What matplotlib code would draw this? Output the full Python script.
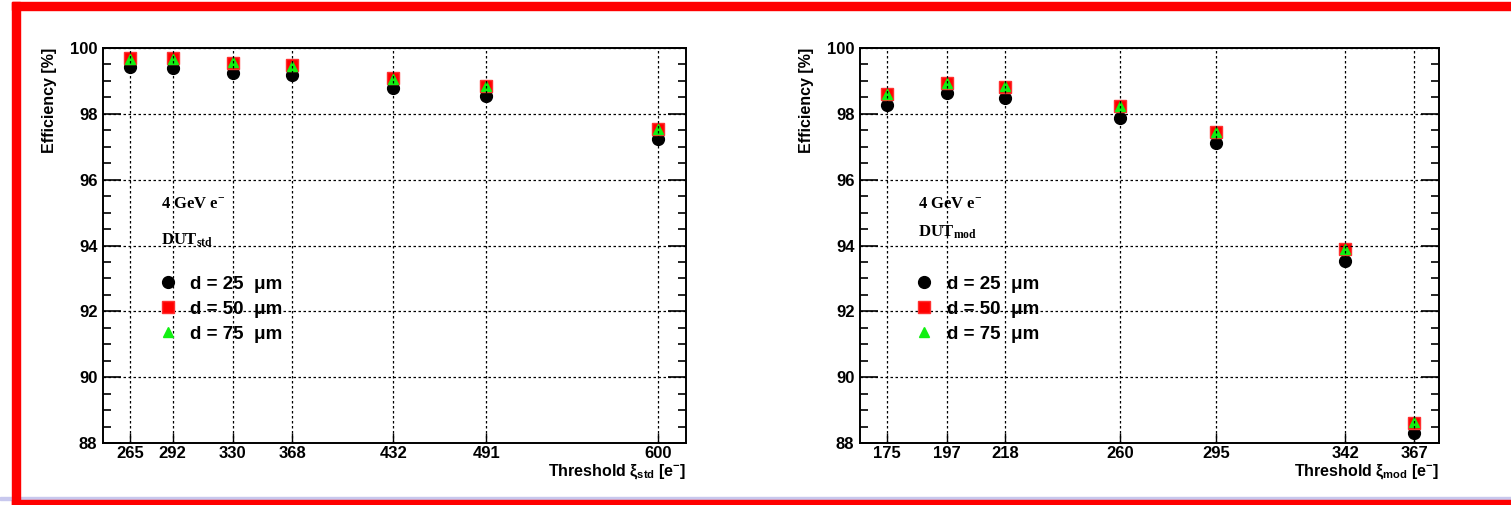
import matplotlib
matplotlib.use("Agg")
import matplotlib.pyplot as plt
from matplotlib.patches import Rectangle
from matplotlib.ticker import MultipleLocator, FixedLocator

# ---------------- data ----------------
thr_std = [265, 292, 330, 368, 432, 491, 600]
std_d25 = [99.41, 99.39, 99.25, 99.19, 98.77, 98.54, 97.23]
std_d50 = [99.70, 99.70, 99.55, 99.48, 99.08, 98.85, 97.54]
std_d75 = [99.68, 99.68, 99.56, 99.46, 99.07, 98.84, 97.55]

thr_mod = [175, 197, 218, 260, 295, 342, 367]
mod_d25 = [98.28, 98.64, 98.47, 97.87, 97.10, 93.53, 88.31]
mod_d50 = [98.60, 98.94, 98.82, 98.24, 97.44, 93.89, 88.61]
mod_d75 = [98.61, 98.95, 98.84, 98.25, 97.45, 93.90, 88.63]

series_labels = ["d = 25  \u03bcm", "d = 50  \u03bcm", "d = 75  \u03bcm"]
y_label = "Efficiency [%]"

plt.rcParams['mathtext.fontset'] = 'custom'
plt.rcParams['mathtext.rm'] = 'Liberation Sans:bold'
plt.rcParams['mathtext.it'] = 'Liberation Sans:bold'
plt.rcParams['mathtext.bf'] = 'Liberation Serif:bold'

W, H = 1511, 505
fig = plt.figure(figsize=(W / 100, H / 100), dpi=100)
fig.patch.set_facecolor('white')

def frac(x0, y0, x1, y1):
    return [x0 / W, 1 - y1 / H, (x1 - x0) / W, (y1 - y0) / H]

# frame decorations
fig.patches.append(Rectangle((0, 1 - 500 / H), 1, 3.5 / H, transform=fig.transFigure,
                             color='#c8c8ee', zorder=0))
fig.patches.append(Rectangle((12 / W, 1 - 10 / H), 1 - 12 / W, 8 / H, transform=fig.transFigure,
                             color='#ff0000', zorder=1))
fig.patches.append(Rectangle((12 / W, 0), 8 / W, 1 - 2 / H, transform=fig.transFigure,
                             color='#ff0000', zorder=1))
fig.patches.append(Rectangle((12 / W, 0), 1 - 12 / W, 5 / H, transform=fig.transFigure,
                             color='#ff0000', zorder=1))

SANS = 'Liberation Sans'
SERIF = 'Liberation Serif'

def panel(rect, thr, d25, d50, d75, xlim, xlab, dut_math, dut_y):
    ax = fig.add_axes(rect)
    ax.plot(thr, d25, linestyle='none', marker='o', color='black', markersize=8.5, label=series_labels[0], zorder=2)
    ax.plot(thr, d50, linestyle='none', marker='s', color='#ff0000', markeredgecolor='#ff3030',
            markersize=8.5, label=series_labels[1], zorder=2)
    ax.plot(thr, d75, linestyle='none', marker='^', color='#11f011', markeredgecolor='#11f011',
            markersize=7.5, label=series_labels[2], zorder=2)
    ax.set_xlim(*xlim)
    ax.set_ylim(88, 100)
    ax.xaxis.set_major_locator(FixedLocator(thr))
    ax.set_xticklabels([str(t) for t in thr])
    ax.yaxis.set_major_locator(MultipleLocator(2))
    ax.yaxis.set_minor_locator(MultipleLocator(0.5))
    ax.tick_params(axis='y', which='major', direction='in', length=13, width=1.2,
                   left=True, right=True, pad=4)
    ax.tick_params(axis='y', which='minor', direction='in', length=6, width=1.2,
                   left=True, right=True)
    ax.tick_params(axis='x', which='major', direction='in', length=7, width=1.0,
                   bottom=True, top=False, pad=2)
    for lab in ax.get_xticklabels() + ax.get_yticklabels():
        lab.set_fontfamily(SANS)
        lab.set_fontweight('bold')
        lab.set_fontsize(12)
    for s in ax.spines.values():
        s.set_linewidth(1.4)
    ax.set_axisbelow(False)
    ax.grid(True, which='major', color='black', linestyle=(0, (2, 2)), linewidth=0.9)
    ax.text(-0.092, 1.0, y_label, transform=ax.transAxes, rotation=90, ha='center', va='top',
            fontfamily=SANS, fontweight='bold', fontsize=11.5)
    ax.text(1.0, -0.072, xlab, transform=ax.transAxes, ha='right', va='center',
            fontfamily=SANS, fontweight='bold', fontsize=11.5)
    ax.text(0.0995, 0.6025, r"4 GeV e$^{\mathbf{-}}$", transform=ax.transAxes, ha='left', va='center',
            fontfamily=SERIF, fontweight='bold', fontsize=12)
    ax.text(0.0995, dut_y, dut_math, transform=ax.transAxes, ha='left', va='center',
            fontfamily=SERIF, fontweight='bold', fontsize=12)
    ax.legend(loc='upper left', bbox_to_anchor=(0.079, 0.448), frameon=False,
              prop={'family': SANS, 'weight': 'bold', 'size': 13.5},
              handlelength=1.0, handletextpad=0.68, labelspacing=0.42, borderpad=0.0)
    return ax

panel(frac(103, 48, 686, 443), thr_std, std_d25, std_d50, std_d75, (247.8, 617.8),
      r"Threshold $\xi_{\mathrm{std}}$ [e$^{-}$]", r"DUT$_{\mathbf{std}}$", 0.513)
panel(frac(860, 48, 1439, 443), thr_mod, mod_d25, mod_d50, mod_d75, (165.2, 376.1),
      r"Threshold $\xi_{\mathrm{mod}}$ [e$^{-}$]", r"DUT$_{\mathbf{mod}}$", 0.535)

fig.savefig("out.png", dpi=100)
